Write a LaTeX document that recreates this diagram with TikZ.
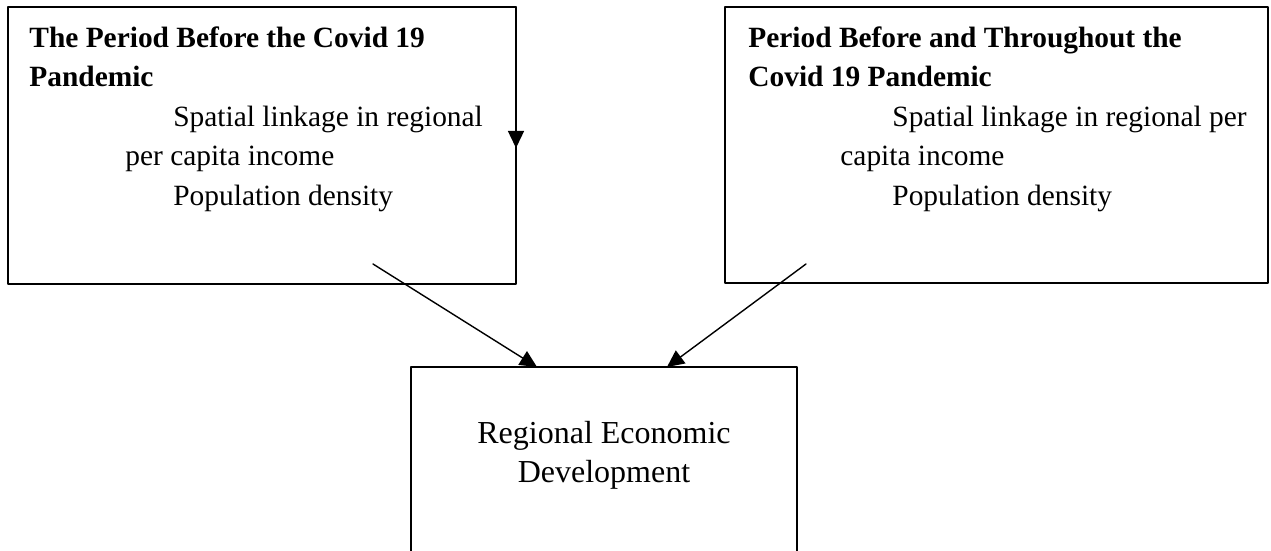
\documentclass[tikz,border=0pt]{standalone}
\usepackage{fontspec}
\setmainfont{Liberation Serif}
\usetikzlibrary{arrows.meta,positioning}
\tikzset{
  every picture/.style={line join=round, line cap=round, >=Triangle},
  box/.style={draw, line width=0.9pt, inner sep=0pt, outer sep=0pt},
  txt/.style={inner sep=0pt, align=left, font=\fontsize{14.7}{19.75}\selectfont},
  link/.style={->, line width=0.7pt, >={Triangle[length=8.5pt,width=8pt]}},
}

\begin{document}
\begin{tikzpicture}[x=0.5pt,y=-0.5pt]
\useasboundingbox (0,0) rectangle (1271,551);
\clip (0,0) rectangle (1271,551);
% boxes
\node[box,minimum width=254pt,minimum height=138.5pt](before) at (262,145.5){};
\node[box,minimum width=271.5pt,minimum height=138pt](during) at (996.5,145){};
\node[box,minimum width=193pt,minimum height=126.5pt](develop) at (604,493.5){};
% texts
\node[txt,below right=9.5pt and 10.5pt of before.north west](beforetxt){\textbf{The Period Before the Covid 19}\\
\textbf{Pandemic}\\
\hspace*{72pt}Spatial linkage in regional\\
\hspace*{48pt}per capita income\\
\hspace*{72pt}Population density};
\node[txt,below right=9.5pt and 11.5pt of during.north west](duringtxt){\textbf{Period Before and Throughout the}\\
\textbf{Covid 19 Pandemic}\\
\hspace*{72pt}Spatial linkage in regional per\\
\hspace*{46pt}capita income\\
\hspace*{72pt}Population density};
\node[txt,align=center,font=\fontsize{16}{19.5}\selectfont,below=27pt of develop.north](developtxt){Regional Economic\\Development};
% arrows
\coordinate (beforetail) at (373,264);
\coordinate (duringtail) at (806,264);
\draw[link] (beforetail) -- ([xshift=63pt]develop.north west);
\draw[link] (duringtail) -- ([xshift=128pt]develop.north west);
\draw[link] (before.north east) -- ([yshift=-70.5pt]before.north east);
\end{tikzpicture}
\end{document}
